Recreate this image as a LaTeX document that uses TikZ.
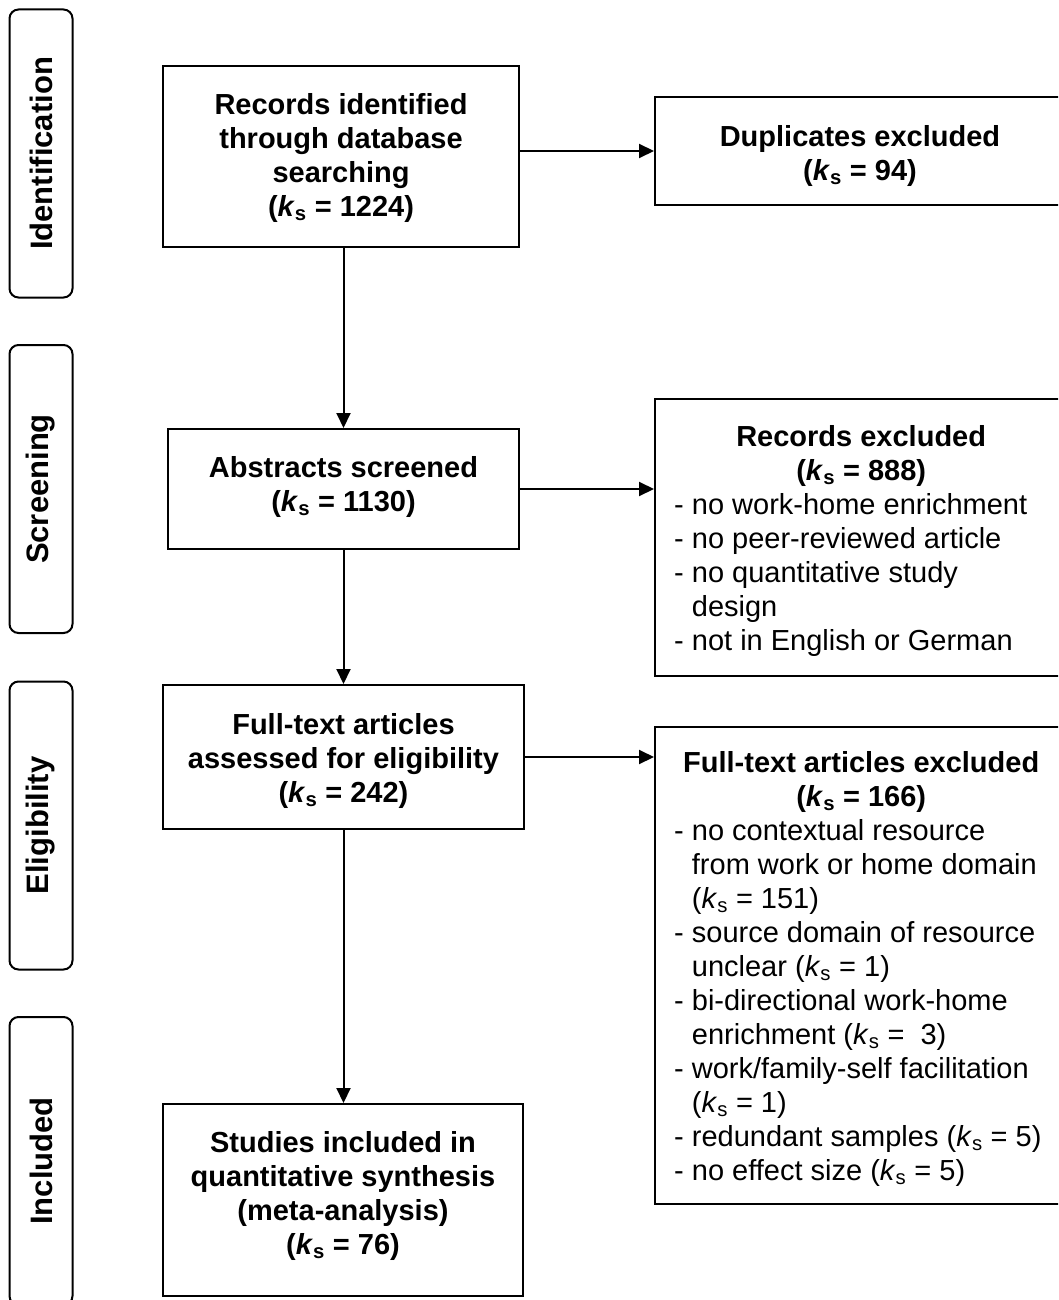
\documentclass[tikz,border=0pt]{standalone}
\usepackage{fontspec}
\setmainfont{Liberation Sans}
\usetikzlibrary{arrows.meta}
\newcommand\ks{\textit{k}\textsubscript{s}}
\newcommand\dsh{\phantom{-\ }}
\begin{document}
\begin{tikzpicture}[x=1pt,y=-1pt,
  box/.style={draw, line width=2pt, inner sep=0pt},
  side/.style={draw, line width=2pt, rounded corners=9pt, inner sep=0pt, minimum width=63pt, minimum height=288pt},
  sidetext/.style={rotate=90, font=\fontsize{31}{36}\selectfont\bfseries, inner sep=0pt},
  reg/.style={font=\fontsize{29}{34}\selectfont, inner sep=0pt},
  bold/.style={font=\fontsize{29}{34}\selectfont\bfseries, inner sep=0pt},
  arr/.style={line width=2pt, -{Triangle[length=15pt,width=14pt]}}
]
\useasboundingbox (0,0) rectangle (1058,1300);
\clip (0,0) rectangle (1058,1300);

% side phase boxes
\node[side] (sid) at (41,153.5) {};
\node[sidetext] (sidT) at (sid.center) {Identification};
\node[side] (sscr) at (41,489) {};
\node[sidetext] (sscrT) at (sscr.center) {Screening};
\node[side] (seli) at (41,825.5) {};
\node[sidetext] (seliT) at (seli.center) {Eligibility};
\node[side] (sinc) at (41,1161) {};
\node[sidetext] (sincT) at (sinc.center) {Included};

% main boxes
\node[box, minimum width=356pt, minimum height=181pt] (rid) at (341,156.5) {};
\node[bold] (ridT) at (341,159) {\begin{tabular}{@{}c@{}}Records identified\\through database\\searching\\(\ks{} = 1224)\end{tabular}};

\node[box, minimum width=410pt, minimum height=108pt] (dup) at (860,151) {};
\node[bold] (dupT) at (860,156.5) {\begin{tabular}{@{}c@{}}Duplicates excluded\\(\ks{} = 94)\end{tabular}};

\node[box, minimum width=351pt, minimum height=120pt] (abs) at (343.5,489) {};
\node[bold] (absT) at (343.5,488) {\begin{tabular}{@{}c@{}}Abstracts screened\\(\ks{} = 1130)\end{tabular}};

\node[box, minimum width=410pt, minimum height=277pt] (rex) at (860,537.5) {};
\node[reg, anchor=west] (rexT) at (674,541.5) {\begin{tabular}{@{}l@{}}
\makebox[374pt][c]{\bfseries Records excluded}\\
\makebox[374pt][c]{\bfseries (\ks{} = 888)}\\
- no work-home enrichment\\
- no peer-reviewed article\\
- no quantitative study\\
\dsh design\\
- not in English or German\end{tabular}};

\node[box, minimum width=361pt, minimum height=144pt] (fta) at (343.5,757) {};
\node[bold] (ftaT) at (343.5,761.5) {\begin{tabular}{@{}c@{}}Full-text articles\\assessed for eligibility\\(\ks{} = 242)\end{tabular}};

\node[box, minimum width=410pt, minimum height=477pt] (fex) at (860,965.5) {};
\node[reg, anchor=west] (fexT) at (674,970) {\begin{tabular}{@{}l@{}}
\makebox[374pt][c]{\bfseries Full-text articles excluded}\\
\makebox[374pt][c]{\bfseries (\ks{} = 166)}\\
- no contextual resource\\
\dsh from work or home domain\\
\dsh (\ks{} = 151)\\
- source domain of resource\\
\dsh unclear (\ks{} = 1)\\
- bi-directional work-home\\
\dsh enrichment (\ks{} =\ \ 3)\\
- work/family-self facilitation\\
\dsh (\ks{} = 1)\\
- redundant samples (\ks{} = 5)\\
- no effect size (\ks{} = 5)\end{tabular}};

\node[box, minimum width=360pt, minimum height=192pt] (stu) at (343,1200) {};
\node[bold] (stuT) at (343,1197) {\begin{tabular}{@{}c@{}}Studies included in\\quantitative synthesis\\(meta-analysis)\\(\ks{} = 76)\end{tabular}};

% connectors
\draw[arr] (rid.south -| abs.north) -- (abs.north);
\draw[arr] (abs.south) -- (fta.north);
\draw[arr] (fta.south) -- (fta.south |- stu.north);
\draw[arr] (rid.east |- dup.west) -- (dup.west);
\draw[arr] (abs.east) -- (abs.east -| rex.west);
\draw[arr] (fta.east) -- (fta.east -| fex.west);
\end{tikzpicture}
\end{document}
